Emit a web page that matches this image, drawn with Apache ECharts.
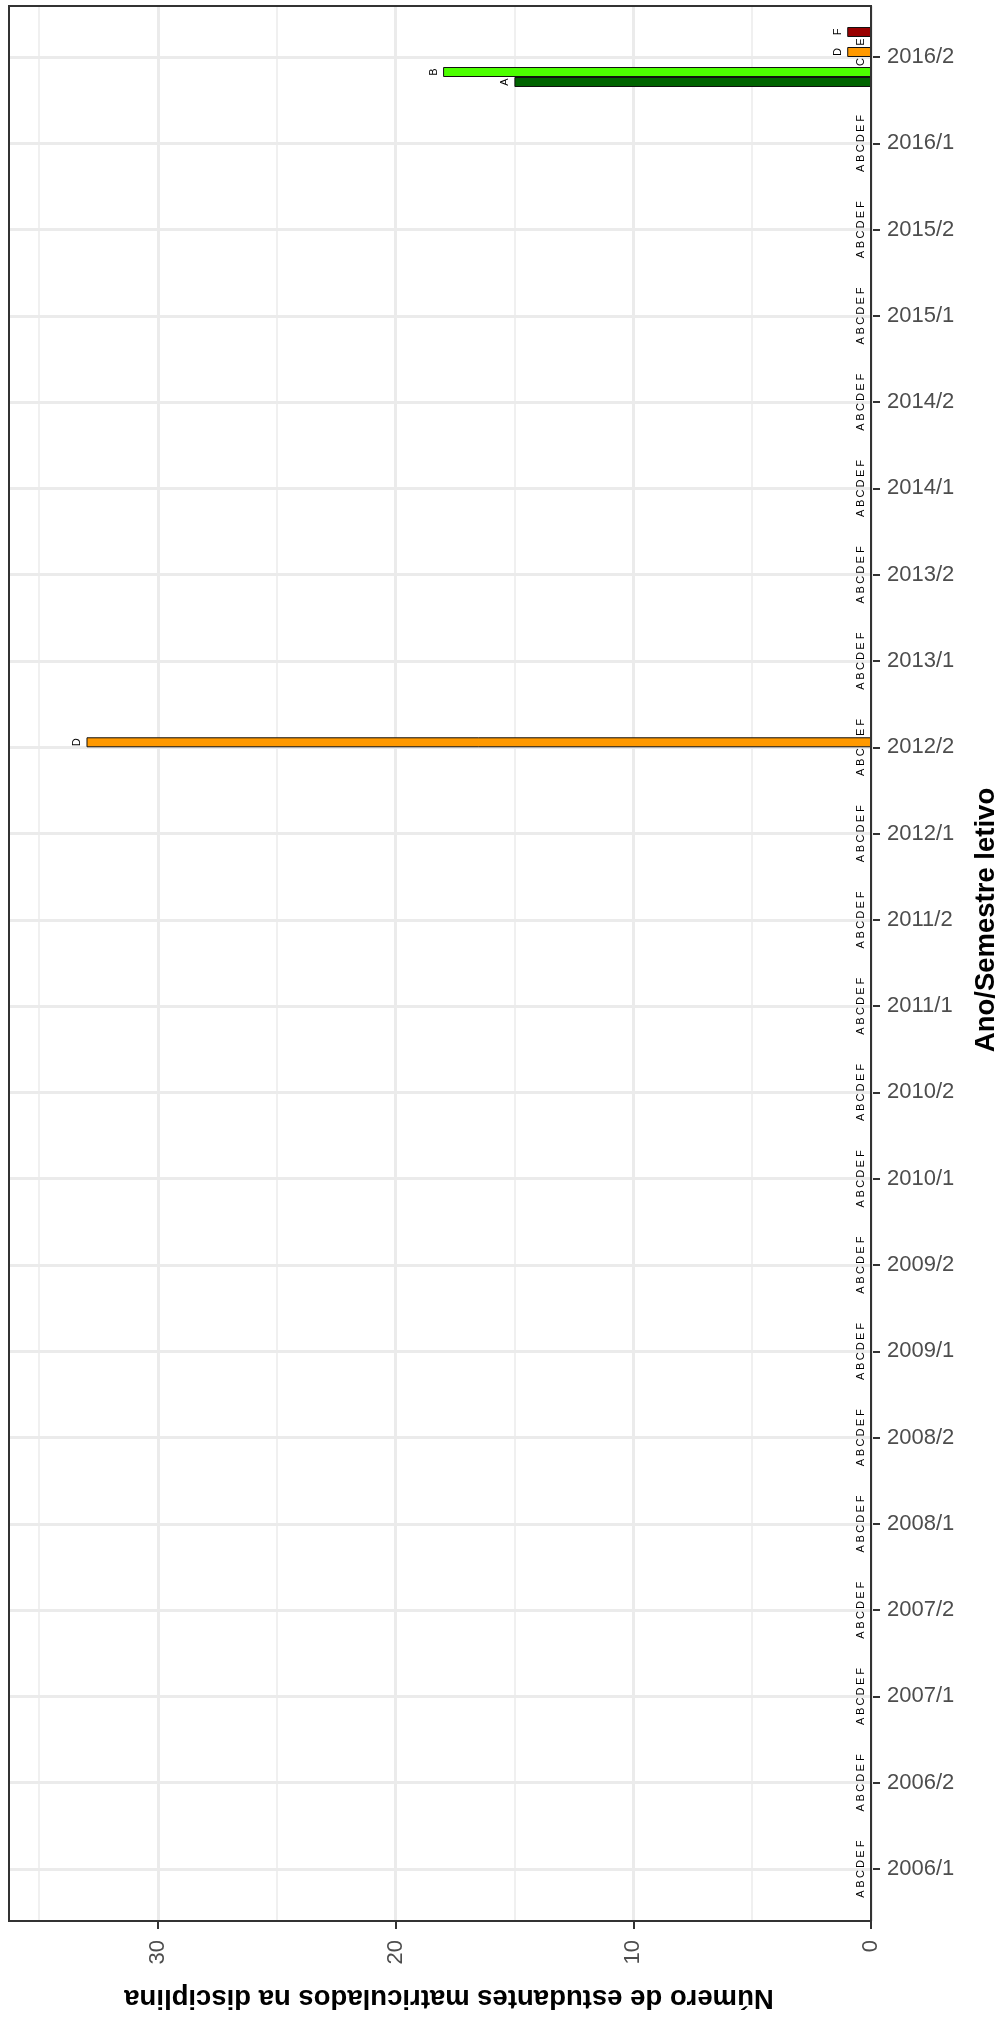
<!DOCTYPE html>
<html>
<head>
<meta charset="utf-8">
<script src="https://cdn.jsdelivr.net/npm/echarts@6/dist/echarts.min.js"></script>
<style>
html,body{margin:0;padding:0;background:#fff;}
#chart{width:1003px;height:2026px;}
</style>
</head>
<body>
<div id="chart"></div>
<script>
// ---- data ----
const categories = ['2006/1','2006/2','2007/1','2007/2','2008/1','2008/2','2009/1','2009/2','2010/1','2010/2','2011/1','2011/2','2012/1','2012/2','2013/1','2013/2','2014/1','2014/2','2015/1','2015/2','2016/1','2016/2'];
const seriesNames = ['A','B','C','D','E','F'];
const valuesA = [0,0,0,0,0,0,0,0,0,0,0,0,0,0,0,0,0,0,0,0,0,15];
const valuesB = [0,0,0,0,0,0,0,0,0,0,0,0,0,0,0,0,0,0,0,0,0,18];
const valuesC = [0,0,0,0,0,0,0,0,0,0,0,0,0,0,0,0,0,0,0,0,0,0];
const valuesD = [0,0,0,0,0,0,0,0,0,0,0,0,0,33,0,0,0,0,0,0,0,1];
const valuesE = [0,0,0,0,0,0,0,0,0,0,0,0,0,0,0,0,0,0,0,0,0,0];
const valuesF = [0,0,0,0,0,0,0,0,0,0,0,0,0,0,0,0,0,0,0,0,0,1];
const valueTicks = [0,10,20,30];
const xTitle = 'Ano/Semestre letivo';
const yTitle = 'Número de estudantes matriculados na disciplina';

// ---- styles ----
const colors = ['#006400','#4cff00','#b8ff66','#ff9900','#ffcc66','#990000'];
const allValues = [valuesA,valuesB,valuesC,valuesD,valuesE,valuesF];
const FONT = "'Liberation Sans', Arial, Helvetica, sans-serif";
const VMAX = 36.26;

const chart = echarts.init(document.getElementById('chart'), null, {renderer:'canvas'});

// ECharts places the first series at the top of each band here, so add them F..A
const order = [5,4,3,2,1,0];
const series = order.map((i) => ({
  name: seriesNames[i],
  type: 'bar',
  xAxisIndex: 0,
  yAxisIndex: 0,
  data: allValues[i],
  barWidth: 10,
  barGap: '0%',
  clip: false,
  itemStyle: {color: colors[i], borderColor: '#111', borderWidth: 1},
  label: {
    show: true,
    position: 'left',
    distance: 4,
    rotate: 90,
    align: 'center',
    verticalAlign: 'bottom',
    formatter: () => seriesNames[i],
    fontFamily: FONT,
    fontSize: 11,
    color: '#000'
  },
  animation: false
}));

const option = {
  animation: false,
  backgroundColor: '#fff',
  grid: [
    {left: 9, right: 132, top: 57, bottom: 157, containLabel: false},
    {left: 9, right: 132, top: 6, bottom: 105, show: true, borderColor: '#333', borderWidth: 2, backgroundColor: 'transparent', z: 5}
  ],
  xAxis: [
    {gridIndex: 0, type: 'value', min: 0, max: VMAX, inverse: true, show: false},
    {gridIndex: 1, type: 'value', min: 0, max: VMAX, inverse: true, interval: 5,
     axisLine: {show: false}, axisTick: {show: false}, axisLabel: {show: false},
     splitLine: {show: true, lineStyle: {color: '#ebebeb', width: 1.5}}, z: 0},
    {gridIndex: 1, type: 'value', min: 0, max: VMAX, inverse: true, interval: 10, position: 'bottom',
     axisLine: {show: true, onZero: false, lineStyle: {color: '#333', width: 2}},
     axisTick: {show: true, length: 8, lineStyle: {color: '#333', width: 2}, customValues: valueTicks},
     axisLabel: {show: true, rotate: 90, margin: 19, fontSize: 22, color: '#4d4d4d', fontFamily: FONT,
                 customValues: valueTicks},
     splitLine: {show: true, lineStyle: {color: '#ebebeb', width: 3}}, z: 1}
  ],
  yAxis: [
    {gridIndex: 0, type: 'category', data: categories, boundaryGap: false, position: 'right',
     axisLine: {show: false},
     axisTick: {show: true, length: 9, interval: 0, lineStyle: {color: '#333', width: 2}},
     axisLabel: {show: true, interval: 0, margin: 16, fontSize: 22, color: '#4d4d4d', fontFamily: FONT},
     splitLine: {show: true, interval: 0, lineStyle: {color: '#ebebeb', width: 3}}},
    {gridIndex: 1, type: 'category', data: categories, show: false}
  ],
  graphic: [
    {type: 'text', x: 986, y: 920, rotation: Math.PI / 2, z: 10,
     style: {text: xTitle, font: "bold 27.5px " + FONT, fill: '#000', align: 'center', verticalAlign: 'middle'}},
    {type: 'text', x: 449, y: 1998, rotation: Math.PI, z: 10,
     style: {text: yTitle, font: "bold 27.5px " + FONT, fill: '#000', align: 'center', verticalAlign: 'middle'}}
  ],
  series: series
};
chart.setOption(option);
</script>
</body>
</html>
